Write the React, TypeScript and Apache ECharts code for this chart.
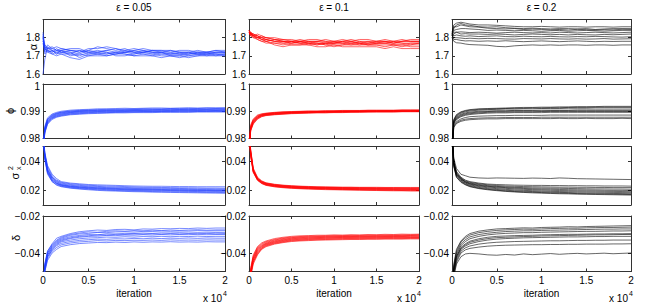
import React, { useEffect, useRef } from 'react';
import * as echarts from 'echarts';

// ---------------- data ----------------
const iterations = [0, 200, 500, 1000, 1500, 2000, 3000, 4000, 5000, 6000, 7000, 8000, 9000, 10000, 11000, 12000, 13000, 14000, 15000, 16000, 17000, 18000, 19000, 20000];

const epsilonTitles = ['ε = 0.05', 'ε = 0.1', 'ε = 0.2'];
const alphaTicks = [1.6, 1.7, 1.8];
const phiTicks = [0.98, 0.99, 1.0];
const sigmaTicks = [0.02, 0.04];
const deltaTicks = [-0.04, -0.02];

const alphaEps005 = [
  [1.83, 1.76, 1.74, 1.75, 1.73, 1.74, 1.73, 1.72, 1.74, 1.74, 1.75, 1.74, 1.73, 1.74, 1.73, 1.72, 1.72, 1.73, 1.72, 1.72, 1.73, 1.72, 1.73, 1.73],
  [1.80, 1.74, 1.72, 1.71, 1.70, 1.71, 1.69, 1.68, 1.70, 1.70, 1.70, 1.71, 1.71, 1.70, 1.70, 1.70, 1.69, 1.70, 1.70, 1.69, 1.70, 1.70, 1.70, 1.70],
  [1.60, 1.68, 1.75, 1.73, 1.72, 1.73, 1.72, 1.71, 1.73, 1.72, 1.73, 1.74, 1.72, 1.71, 1.72, 1.73, 1.72, 1.71, 1.71, 1.72, 1.71, 1.71, 1.72, 1.72],
  [1.78, 1.75, 1.73, 1.72, 1.74, 1.72, 1.71, 1.73, 1.71, 1.72, 1.71, 1.72, 1.73, 1.72, 1.71, 1.71, 1.72, 1.72, 1.71, 1.70, 1.71, 1.71, 1.71, 1.71],
  [1.79, 1.73, 1.76, 1.74, 1.73, 1.73, 1.74, 1.74, 1.72, 1.73, 1.72, 1.71, 1.72, 1.73, 1.74, 1.73, 1.73, 1.72, 1.73, 1.73, 1.72, 1.71, 1.72, 1.72],
  [1.81, 1.74, 1.72, 1.73, 1.71, 1.72, 1.72, 1.69, 1.71, 1.71, 1.72, 1.70, 1.70, 1.71, 1.72, 1.71, 1.70, 1.70, 1.69, 1.70, 1.70, 1.71, 1.70, 1.71],
  [1.77, 1.72, 1.74, 1.74, 1.75, 1.74, 1.73, 1.72, 1.73, 1.75, 1.74, 1.73, 1.74, 1.72, 1.72, 1.73, 1.73, 1.73, 1.72, 1.71, 1.72, 1.72, 1.72, 1.72],
  [1.80, 1.75, 1.73, 1.71, 1.72, 1.71, 1.71, 1.70, 1.72, 1.71, 1.71, 1.72, 1.71, 1.70, 1.71, 1.70, 1.71, 1.71, 1.71, 1.71, 1.71, 1.70, 1.71, 1.71],
  [1.82, 1.71, 1.73, 1.72, 1.73, 1.72, 1.73, 1.73, 1.72, 1.72, 1.73, 1.72, 1.72, 1.73, 1.72, 1.72, 1.72, 1.70, 1.70, 1.71, 1.72, 1.72, 1.71, 1.70],
  [1.78, 1.76, 1.74, 1.73, 1.71, 1.73, 1.70, 1.71, 1.70, 1.71, 1.70, 1.71, 1.72, 1.72, 1.73, 1.72, 1.71, 1.71, 1.72, 1.72, 1.71, 1.72, 1.73, 1.72],
];

const alphaEps01 = [
  [1.84, 1.83, 1.82, 1.81, 1.80, 1.79, 1.78, 1.78, 1.78, 1.78, 1.77, 1.78, 1.78, 1.77, 1.78, 1.78, 1.77, 1.77, 1.78, 1.78, 1.77, 1.78, 1.78, 1.78],
  [1.83, 1.82, 1.81, 1.80, 1.79, 1.78, 1.76, 1.75, 1.76, 1.76, 1.76, 1.75, 1.75, 1.76, 1.75, 1.75, 1.75, 1.75, 1.75, 1.74, 1.75, 1.74, 1.74, 1.74],
  [1.82, 1.82, 1.81, 1.82, 1.81, 1.80, 1.79, 1.79, 1.78, 1.79, 1.78, 1.78, 1.79, 1.78, 1.78, 1.79, 1.78, 1.78, 1.78, 1.79, 1.78, 1.78, 1.79, 1.79],
  [1.83, 1.81, 1.80, 1.79, 1.78, 1.77, 1.77, 1.76, 1.77, 1.77, 1.77, 1.76, 1.77, 1.76, 1.76, 1.76, 1.77, 1.76, 1.76, 1.76, 1.76, 1.75, 1.76, 1.76],
  [1.84, 1.82, 1.82, 1.80, 1.80, 1.80, 1.79, 1.78, 1.77, 1.78, 1.78, 1.77, 1.77, 1.78, 1.77, 1.77, 1.78, 1.77, 1.77, 1.77, 1.78, 1.77, 1.77, 1.77],
  [1.82, 1.83, 1.81, 1.81, 1.79, 1.79, 1.78, 1.77, 1.78, 1.77, 1.76, 1.77, 1.76, 1.77, 1.77, 1.76, 1.76, 1.77, 1.77, 1.77, 1.76, 1.76, 1.77, 1.77],
  [1.83, 1.82, 1.80, 1.80, 1.81, 1.80, 1.80, 1.79, 1.79, 1.78, 1.79, 1.79, 1.78, 1.78, 1.79, 1.78, 1.79, 1.79, 1.78, 1.78, 1.78, 1.79, 1.78, 1.78],
  [1.84, 1.81, 1.81, 1.79, 1.78, 1.78, 1.77, 1.77, 1.76, 1.76, 1.77, 1.77, 1.76, 1.75, 1.76, 1.77, 1.76, 1.76, 1.76, 1.75, 1.76, 1.76, 1.75, 1.75],
  [1.82, 1.82, 1.82, 1.81, 1.80, 1.79, 1.78, 1.78, 1.78, 1.77, 1.78, 1.78, 1.77, 1.77, 1.77, 1.78, 1.77, 1.78, 1.77, 1.77, 1.77, 1.77, 1.76, 1.77],
  [1.83, 1.83, 1.81, 1.80, 1.79, 1.78, 1.79, 1.78, 1.77, 1.78, 1.77, 1.76, 1.77, 1.77, 1.78, 1.77, 1.77, 1.76, 1.77, 1.78, 1.77, 1.78, 1.78, 1.78],
];

const alphaEps02 = [
  [1.82, 1.87, 1.88, 1.885, 1.88, 1.875, 1.87, 1.87, 1.868, 1.865, 1.862, 1.86, 1.86, 1.862, 1.86, 1.858, 1.86, 1.86, 1.858, 1.86, 1.86, 1.858, 1.86, 1.86],
  [1.81, 1.85, 1.87, 1.878, 1.87, 1.868, 1.86, 1.858, 1.86, 1.855, 1.852, 1.85, 1.852, 1.85, 1.848, 1.85, 1.85, 1.848, 1.85, 1.845, 1.848, 1.85, 1.85, 1.85],
  [1.83, 1.86, 1.86, 1.87, 1.865, 1.86, 1.858, 1.852, 1.85, 1.848, 1.85, 1.845, 1.847, 1.845, 1.843, 1.845, 1.842, 1.846, 1.844, 1.842, 1.844, 1.843, 1.846, 1.845],
  [1.82, 1.84, 1.845, 1.85, 1.85, 1.848, 1.845, 1.84, 1.842, 1.84, 1.838, 1.84, 1.838, 1.835, 1.838, 1.84, 1.835, 1.838, 1.84, 1.838, 1.836, 1.838, 1.84, 1.84],
  [1.81, 1.83, 1.83, 1.832, 1.83, 1.828, 1.83, 1.828, 1.825, 1.828, 1.83, 1.828, 1.826, 1.828, 1.826, 1.83, 1.828, 1.826, 1.828, 1.83, 1.828, 1.826, 1.828, 1.83],
  [1.80, 1.82, 1.83, 1.82, 1.822, 1.82, 1.82, 1.818, 1.82, 1.818, 1.815, 1.818, 1.82, 1.818, 1.816, 1.818, 1.815, 1.818, 1.816, 1.815, 1.818, 1.816, 1.818, 1.82],
  [1.82, 1.81, 1.815, 1.81, 1.808, 1.81, 1.806, 1.808, 1.81, 1.806, 1.805, 1.808, 1.806, 1.805, 1.807, 1.805, 1.804, 1.806, 1.805, 1.807, 1.806, 1.804, 1.803, 1.805],
  [1.81, 1.80, 1.80, 1.798, 1.795, 1.797, 1.794, 1.796, 1.795, 1.793, 1.792, 1.795, 1.794, 1.793, 1.795, 1.793, 1.792, 1.794, 1.792, 1.793, 1.795, 1.792, 1.793, 1.794],
  [1.82, 1.79, 1.79, 1.785, 1.782, 1.783, 1.78, 1.782, 1.78, 1.783, 1.78, 1.778, 1.78, 1.782, 1.78, 1.778, 1.78, 1.782, 1.78, 1.778, 1.78, 1.779, 1.78, 1.78],
  [1.80, 1.78, 1.772, 1.77, 1.765, 1.762, 1.76, 1.758, 1.752, 1.75, 1.755, 1.758, 1.76, 1.758, 1.76, 1.758, 1.76, 1.76, 1.758, 1.76, 1.76, 1.758, 1.76, 1.76],
];

const phiEps005 = [
  [0.975, 0.9845, 0.9876, 0.9890, 0.9896, 0.9900, 0.9904, 0.9906, 0.9907, 0.9909, 0.9909, 0.9910, 0.9911, 0.9910, 0.9911, 0.9912, 0.9912, 0.9911, 0.9912, 0.9913, 0.9912, 0.9913, 0.9913, 0.9913],
  [0.975, 0.9840, 0.9872, 0.9887, 0.9893, 0.9897, 0.9901, 0.9903, 0.9905, 0.9906, 0.9907, 0.9907, 0.9908, 0.9908, 0.9909, 0.9909, 0.9909, 0.9910, 0.9910, 0.9910, 0.9910, 0.9911, 0.9910, 0.9911],
  [0.975, 0.9838, 0.9870, 0.9885, 0.9892, 0.9896, 0.9900, 0.9902, 0.9903, 0.9904, 0.9905, 0.9905, 0.9906, 0.9906, 0.9907, 0.9907, 0.9907, 0.9908, 0.9907, 0.9908, 0.9908, 0.9908, 0.9909, 0.9909],
  [0.975, 0.9835, 0.9868, 0.9883, 0.9890, 0.9894, 0.9898, 0.9900, 0.9902, 0.9903, 0.9903, 0.9904, 0.9904, 0.9905, 0.9905, 0.9905, 0.9906, 0.9906, 0.9906, 0.9906, 0.9907, 0.9907, 0.9907, 0.9907],
  [0.975, 0.9832, 0.9865, 0.9881, 0.9888, 0.9892, 0.9896, 0.9899, 0.9900, 0.9901, 0.9902, 0.9902, 0.9903, 0.9903, 0.9903, 0.9904, 0.9904, 0.9904, 0.9905, 0.9905, 0.9905, 0.9905, 0.9905, 0.9905],
  [0.975, 0.9830, 0.9862, 0.9879, 0.9886, 0.9890, 0.9895, 0.9897, 0.9898, 0.9899, 0.9900, 0.9901, 0.9901, 0.9902, 0.9902, 0.9902, 0.9902, 0.9903, 0.9903, 0.9903, 0.9903, 0.9904, 0.9903, 0.9904],
  [0.975, 0.9828, 0.9860, 0.9877, 0.9884, 0.9888, 0.9893, 0.9895, 0.9897, 0.9898, 0.9898, 0.9899, 0.9899, 0.9900, 0.9900, 0.9900, 0.9901, 0.9901, 0.9901, 0.9901, 0.9902, 0.9902, 0.9902, 0.9902],
  [0.975, 0.9825, 0.9858, 0.9875, 0.9882, 0.9886, 0.9891, 0.9893, 0.9895, 0.9896, 0.9897, 0.9897, 0.9898, 0.9898, 0.9899, 0.9899, 0.9899, 0.9899, 0.9900, 0.9900, 0.9900, 0.9900, 0.9901, 0.9900],
  [0.975, 0.9822, 0.9855, 0.9873, 0.9880, 0.9884, 0.9889, 0.9891, 0.9893, 0.9894, 0.9895, 0.9896, 0.9896, 0.9897, 0.9897, 0.9897, 0.9898, 0.9898, 0.9898, 0.9898, 0.9899, 0.9899, 0.9899, 0.9899],
  [0.975, 0.9820, 0.9852, 0.9870, 0.9878, 0.9882, 0.9887, 0.9889, 0.9891, 0.9892, 0.9893, 0.9894, 0.9894, 0.9895, 0.9895, 0.9895, 0.9896, 0.9896, 0.9896, 0.9896, 0.9897, 0.9897, 0.9897, 0.9897],
];

const phiEps01 = [
  [0.975, 0.9850, 0.9872, 0.9886, 0.9891, 0.9893, 0.9896, 0.9898, 0.9899, 0.9900, 0.9901, 0.9901, 0.9902, 0.9902, 0.9903, 0.9903, 0.9903, 0.9904, 0.9904, 0.9904, 0.9904, 0.9905, 0.9905, 0.9905],
  [0.975, 0.9846, 0.9869, 0.9884, 0.9889, 0.9892, 0.9895, 0.9897, 0.9898, 0.9899, 0.9900, 0.9900, 0.9901, 0.9901, 0.9902, 0.9902, 0.9902, 0.9903, 0.9903, 0.9903, 0.9903, 0.9904, 0.9904, 0.9904],
  [0.975, 0.9843, 0.9867, 0.9882, 0.9888, 0.9891, 0.9894, 0.9896, 0.9897, 0.9898, 0.9899, 0.9899, 0.9900, 0.9900, 0.9901, 0.9901, 0.9901, 0.9902, 0.9902, 0.9902, 0.9902, 0.9903, 0.9903, 0.9903],
  [0.975, 0.9840, 0.9865, 0.9880, 0.9887, 0.9890, 0.9893, 0.9895, 0.9896, 0.9897, 0.9898, 0.9899, 0.9899, 0.9900, 0.9900, 0.9900, 0.9901, 0.9901, 0.9901, 0.9902, 0.9902, 0.9902, 0.9902, 0.9902],
  [0.975, 0.9838, 0.9863, 0.9879, 0.9886, 0.9889, 0.9892, 0.9894, 0.9896, 0.9897, 0.9897, 0.9898, 0.9898, 0.9899, 0.9899, 0.9900, 0.9900, 0.9900, 0.9901, 0.9901, 0.9901, 0.9901, 0.9901, 0.9902],
  [0.975, 0.9836, 0.9861, 0.9878, 0.9885, 0.9888, 0.9891, 0.9893, 0.9895, 0.9896, 0.9896, 0.9897, 0.9898, 0.9898, 0.9899, 0.9899, 0.9899, 0.9900, 0.9900, 0.9900, 0.9900, 0.9901, 0.9901, 0.9901],
  [0.975, 0.9834, 0.9859, 0.9876, 0.9884, 0.9887, 0.9890, 0.9892, 0.9894, 0.9895, 0.9896, 0.9896, 0.9897, 0.9897, 0.9898, 0.9898, 0.9899, 0.9899, 0.9899, 0.9899, 0.9900, 0.9900, 0.9900, 0.9900],
  [0.975, 0.9832, 0.9857, 0.9875, 0.9883, 0.9886, 0.9889, 0.9891, 0.9893, 0.9894, 0.9895, 0.9896, 0.9896, 0.9897, 0.9897, 0.9898, 0.9898, 0.9898, 0.9899, 0.9899, 0.9899, 0.9899, 0.9900, 0.9900],
  [0.975, 0.9830, 0.9855, 0.9873, 0.9881, 0.9885, 0.9888, 0.9890, 0.9892, 0.9893, 0.9894, 0.9895, 0.9895, 0.9896, 0.9896, 0.9897, 0.9897, 0.9898, 0.9898, 0.9898, 0.9898, 0.9899, 0.9899, 0.9899],
  [0.975, 0.9828, 0.9853, 0.9871, 0.9880, 0.9884, 0.9887, 0.9889, 0.9891, 0.9892, 0.9893, 0.9894, 0.9894, 0.9895, 0.9895, 0.9896, 0.9896, 0.9897, 0.9897, 0.9897, 0.9897, 0.9898, 0.9898, 0.9898],
];

const phiEps02 = [
  [0.975, 0.9870, 0.9888, 0.9898, 0.9903, 0.9906, 0.9909, 0.9910, 0.9911, 0.9912, 0.9913, 0.9914, 0.9914, 0.9915, 0.9915, 0.9916, 0.9916, 0.9917, 0.9917, 0.9917, 0.9918, 0.9918, 0.9918, 0.9918],
  [0.975, 0.9868, 0.9885, 0.9896, 0.9901, 0.9904, 0.9907, 0.9908, 0.9909, 0.9910, 0.9911, 0.9911, 0.9912, 0.9912, 0.9913, 0.9913, 0.9914, 0.9914, 0.9914, 0.9915, 0.9915, 0.9915, 0.9915, 0.9915],
  [0.975, 0.9865, 0.9882, 0.9893, 0.9898, 0.9901, 0.9904, 0.9906, 0.9907, 0.9908, 0.9908, 0.9909, 0.9909, 0.9910, 0.9910, 0.9910, 0.9911, 0.9911, 0.9911, 0.9912, 0.9912, 0.9912, 0.9912, 0.9912],
  [0.975, 0.9862, 0.9878, 0.9889, 0.9894, 0.9897, 0.9900, 0.9901, 0.9902, 0.9902, 0.9903, 0.9903, 0.9903, 0.9904, 0.9904, 0.9904, 0.9904, 0.9905, 0.9905, 0.9905, 0.9905, 0.9905, 0.9905, 0.9905],
  [0.975, 0.9860, 0.9875, 0.9886, 0.9891, 0.9894, 0.9897, 0.9899, 0.9900, 0.9900, 0.9901, 0.9901, 0.9901, 0.9901, 0.9902, 0.9902, 0.9902, 0.9902, 0.9902, 0.9902, 0.9902, 0.9902, 0.9902, 0.9902],
  [0.975, 0.9858, 0.9872, 0.9883, 0.9888, 0.9891, 0.9894, 0.9896, 0.9897, 0.9897, 0.9898, 0.9898, 0.9898, 0.9899, 0.9899, 0.9899, 0.9899, 0.9899, 0.9899, 0.9899, 0.9899, 0.9899, 0.9899, 0.9899],
  [0.975, 0.9855, 0.9869, 0.9880, 0.9885, 0.9888, 0.9891, 0.9893, 0.9894, 0.9894, 0.9895, 0.9895, 0.9895, 0.9895, 0.9896, 0.9896, 0.9896, 0.9896, 0.9896, 0.9896, 0.9896, 0.9896, 0.9896, 0.9896],
  [0.975, 0.9850, 0.9862, 0.9872, 0.9877, 0.9880, 0.9882, 0.9883, 0.9884, 0.9884, 0.9885, 0.9885, 0.9885, 0.9885, 0.9886, 0.9886, 0.9886, 0.9886, 0.9886, 0.9886, 0.9886, 0.9886, 0.9886, 0.9886],
  [0.975, 0.9845, 0.9858, 0.9867, 0.9871, 0.9873, 0.9875, 0.9876, 0.9876, 0.9877, 0.9877, 0.9877, 0.9877, 0.9878, 0.9878, 0.9878, 0.9878, 0.9878, 0.9878, 0.9878, 0.9878, 0.9878, 0.9878, 0.9878],
  [0.975, 0.9840, 0.9855, 0.9863, 0.9867, 0.9869, 0.9871, 0.9872, 0.9872, 0.9873, 0.9873, 0.9873, 0.9873, 0.9873, 0.9873, 0.9874, 0.9873, 0.9873, 0.9874, 0.9873, 0.9873, 0.9873, 0.9874, 0.9873],
];

const sigmaEps005 = [
  [0.060, 0.046, 0.037, 0.031, 0.028, 0.026, 0.0250, 0.0245, 0.0240, 0.0238, 0.0236, 0.0234, 0.0232, 0.0230, 0.0229, 0.0228, 0.0228, 0.0227, 0.0226, 0.0226, 0.0225, 0.0225, 0.0225, 0.0225],
  [0.060, 0.045, 0.036, 0.030, 0.027, 0.0255, 0.0245, 0.0240, 0.0235, 0.0232, 0.0230, 0.0228, 0.0226, 0.0224, 0.0222, 0.0221, 0.0220, 0.0219, 0.0218, 0.0218, 0.0217, 0.0216, 0.0216, 0.0215],
  [0.060, 0.045, 0.035, 0.029, 0.0265, 0.025, 0.0240, 0.0234, 0.0230, 0.0227, 0.0224, 0.0222, 0.0220, 0.0218, 0.0217, 0.0216, 0.0215, 0.0214, 0.0213, 0.0212, 0.0211, 0.0211, 0.0210, 0.0210],
  [0.060, 0.044, 0.034, 0.029, 0.026, 0.0245, 0.0235, 0.0229, 0.0225, 0.0222, 0.0219, 0.0217, 0.0215, 0.0213, 0.0212, 0.0211, 0.0210, 0.0209, 0.0208, 0.0207, 0.0206, 0.0206, 0.0205, 0.0205],
  [0.060, 0.044, 0.034, 0.028, 0.0255, 0.024, 0.0230, 0.0225, 0.0221, 0.0218, 0.0215, 0.0213, 0.0211, 0.0209, 0.0208, 0.0207, 0.0206, 0.0205, 0.0204, 0.0203, 0.0202, 0.0201, 0.0200, 0.0200],
  [0.060, 0.043, 0.033, 0.028, 0.025, 0.0238, 0.0228, 0.0222, 0.0218, 0.0215, 0.0212, 0.0210, 0.0208, 0.0206, 0.0205, 0.0204, 0.0203, 0.0202, 0.0201, 0.0200, 0.0199, 0.0199, 0.0198, 0.0198],
  [0.060, 0.043, 0.033, 0.027, 0.0248, 0.0235, 0.0225, 0.0219, 0.0215, 0.0212, 0.0209, 0.0207, 0.0205, 0.0203, 0.0202, 0.0201, 0.0200, 0.0199, 0.0198, 0.0197, 0.0196, 0.0196, 0.0195, 0.0195],
  [0.060, 0.042, 0.032, 0.027, 0.0245, 0.0232, 0.0222, 0.0216, 0.0212, 0.0208, 0.0205, 0.0203, 0.0201, 0.0199, 0.0198, 0.0197, 0.0196, 0.0195, 0.0194, 0.0193, 0.0192, 0.0191, 0.0191, 0.0190],
  [0.060, 0.042, 0.032, 0.026, 0.024, 0.0228, 0.0218, 0.0212, 0.0208, 0.0204, 0.0201, 0.0199, 0.0197, 0.0195, 0.0194, 0.0192, 0.0191, 0.0190, 0.0189, 0.0188, 0.0187, 0.0186, 0.0186, 0.0185],
  [0.060, 0.041, 0.031, 0.026, 0.0235, 0.0225, 0.0215, 0.0209, 0.0204, 0.0200, 0.0197, 0.0195, 0.0193, 0.0191, 0.0190, 0.0188, 0.0187, 0.0186, 0.0185, 0.0184, 0.0183, 0.0182, 0.0181, 0.0180],
];

const sigmaEps01 = [
  [0.060, 0.048, 0.035, 0.029, 0.0265, 0.0252, 0.0242, 0.0236, 0.0232, 0.0229, 0.0227, 0.0225, 0.0224, 0.0223, 0.0222, 0.0222, 0.0221, 0.0221, 0.0221, 0.0220, 0.0220, 0.0220, 0.0220, 0.0220],
  [0.060, 0.047, 0.035, 0.0285, 0.0262, 0.0250, 0.0240, 0.0234, 0.0230, 0.0227, 0.0225, 0.0223, 0.0222, 0.0221, 0.0220, 0.0220, 0.0219, 0.0219, 0.0218, 0.0218, 0.0218, 0.0217, 0.0217, 0.0217],
  [0.060, 0.047, 0.034, 0.0283, 0.0260, 0.0248, 0.0238, 0.0232, 0.0228, 0.0225, 0.0223, 0.0221, 0.0220, 0.0219, 0.0218, 0.0217, 0.0217, 0.0216, 0.0216, 0.0215, 0.0215, 0.0215, 0.0214, 0.0214],
  [0.060, 0.046, 0.034, 0.0280, 0.0258, 0.0246, 0.0236, 0.0230, 0.0226, 0.0223, 0.0221, 0.0219, 0.0218, 0.0217, 0.0216, 0.0215, 0.0214, 0.0214, 0.0213, 0.0213, 0.0212, 0.0212, 0.0212, 0.0211],
  [0.060, 0.046, 0.0335, 0.0278, 0.0256, 0.0244, 0.0234, 0.0228, 0.0224, 0.0221, 0.0219, 0.0217, 0.0216, 0.0215, 0.0214, 0.0213, 0.0212, 0.0212, 0.0211, 0.0210, 0.0210, 0.0209, 0.0209, 0.0209],
  [0.060, 0.045, 0.0332, 0.0276, 0.0254, 0.0242, 0.0232, 0.0226, 0.0222, 0.0219, 0.0217, 0.0215, 0.0214, 0.0213, 0.0212, 0.0211, 0.0210, 0.0209, 0.0209, 0.0208, 0.0207, 0.0207, 0.0206, 0.0206],
  [0.060, 0.045, 0.0330, 0.0274, 0.0252, 0.0240, 0.0230, 0.0224, 0.0220, 0.0217, 0.0215, 0.0213, 0.0212, 0.0210, 0.0209, 0.0208, 0.0207, 0.0207, 0.0206, 0.0205, 0.0205, 0.0204, 0.0204, 0.0203],
  [0.060, 0.044, 0.0328, 0.0272, 0.0250, 0.0238, 0.0228, 0.0222, 0.0218, 0.0215, 0.0213, 0.0211, 0.0210, 0.0208, 0.0207, 0.0206, 0.0205, 0.0204, 0.0203, 0.0203, 0.0202, 0.0201, 0.0201, 0.0200],
  [0.060, 0.044, 0.0325, 0.0270, 0.0248, 0.0236, 0.0226, 0.0220, 0.0216, 0.0213, 0.0211, 0.0209, 0.0208, 0.0206, 0.0205, 0.0204, 0.0203, 0.0202, 0.0201, 0.0200, 0.0200, 0.0199, 0.0198, 0.0198],
  [0.060, 0.043, 0.0322, 0.0268, 0.0246, 0.0234, 0.0224, 0.0218, 0.0214, 0.0211, 0.0209, 0.0207, 0.0205, 0.0204, 0.0203, 0.0202, 0.0201, 0.0200, 0.0199, 0.0198, 0.0197, 0.0197, 0.0196, 0.0196],
];

const sigmaEps02 = [
  [0.060, 0.042, 0.035, 0.031, 0.030, 0.029, 0.0285, 0.0283, 0.0285, 0.0284, 0.0283, 0.0282, 0.0284, 0.0283, 0.0281, 0.0285, 0.0283, 0.0280, 0.0279, 0.0278, 0.0277, 0.0276, 0.0275, 0.0274],
  [0.060, 0.040, 0.033, 0.029, 0.027, 0.026, 0.0250, 0.0243, 0.0240, 0.0238, 0.0236, 0.0235, 0.0234, 0.0234, 0.0233, 0.0233, 0.0232, 0.0232, 0.0231, 0.0231, 0.0230, 0.0230, 0.0230, 0.0229],
  [0.060, 0.040, 0.032, 0.0285, 0.0265, 0.0255, 0.0245, 0.0238, 0.0233, 0.0230, 0.0228, 0.0226, 0.0225, 0.0224, 0.0223, 0.0222, 0.0222, 0.0221, 0.0221, 0.0220, 0.0220, 0.0219, 0.0219, 0.0219],
  [0.060, 0.039, 0.032, 0.028, 0.026, 0.025, 0.0240, 0.0232, 0.0227, 0.0224, 0.0221, 0.0219, 0.0217, 0.0216, 0.0215, 0.0214, 0.0213, 0.0212, 0.0211, 0.0210, 0.0210, 0.0209, 0.0209, 0.0208],
  [0.060, 0.039, 0.031, 0.028, 0.0258, 0.0246, 0.0235, 0.0228, 0.0223, 0.0219, 0.0216, 0.0213, 0.0211, 0.0209, 0.0208, 0.0206, 0.0205, 0.0204, 0.0203, 0.0202, 0.0201, 0.0200, 0.0200, 0.0199],
  [0.060, 0.038, 0.031, 0.0275, 0.0255, 0.0243, 0.0231, 0.0224, 0.0218, 0.0214, 0.0210, 0.0207, 0.0205, 0.0203, 0.0201, 0.0199, 0.0198, 0.0197, 0.0196, 0.0195, 0.0194, 0.0193, 0.0192, 0.0191],
  [0.060, 0.038, 0.030, 0.027, 0.025, 0.0238, 0.0226, 0.0218, 0.0212, 0.0207, 0.0203, 0.0200, 0.0198, 0.0196, 0.0194, 0.0192, 0.0191, 0.0190, 0.0189, 0.0188, 0.0187, 0.0186, 0.0185, 0.0184],
  [0.060, 0.037, 0.030, 0.0265, 0.0245, 0.0233, 0.0220, 0.0212, 0.0206, 0.0201, 0.0197, 0.0194, 0.0192, 0.0190, 0.0188, 0.0186, 0.0185, 0.0183, 0.0182, 0.0181, 0.0180, 0.0179, 0.0178, 0.0177],
  [0.060, 0.037, 0.029, 0.026, 0.024, 0.0228, 0.0215, 0.0207, 0.0201, 0.0196, 0.0192, 0.0189, 0.0187, 0.0185, 0.0183, 0.0181, 0.0180, 0.0178, 0.0177, 0.0176, 0.0175, 0.0174, 0.0173, 0.0172],
  [0.060, 0.036, 0.029, 0.0255, 0.0238, 0.0225, 0.0212, 0.0204, 0.0198, 0.0193, 0.0189, 0.0186, 0.0183, 0.0181, 0.0179, 0.0177, 0.0176, 0.0174, 0.0173, 0.0172, 0.0171, 0.0170, 0.0169, 0.0168],
];

const deltaEps005 = [
  [-0.060, -0.046, -0.039, -0.035, -0.032, -0.031, -0.0295, -0.0285, -0.0280, -0.0276, -0.0278, -0.0273, -0.0272, -0.0275, -0.0270, -0.0271, -0.0268, -0.0269, -0.0267, -0.0268, -0.0265, -0.0267, -0.0265, -0.0265],
  [-0.060, -0.046, -0.039, -0.0355, -0.033, -0.0315, -0.0300, -0.0292, -0.0286, -0.0288, -0.0283, -0.0280, -0.0282, -0.0279, -0.0280, -0.0277, -0.0279, -0.0276, -0.0278, -0.0276, -0.0274, -0.0277, -0.0275, -0.0275],
  [-0.060, -0.047, -0.040, -0.036, -0.0335, -0.032, -0.0305, -0.0297, -0.0294, -0.0289, -0.0290, -0.0286, -0.0285, -0.0287, -0.0283, -0.0284, -0.0281, -0.0283, -0.0281, -0.0282, -0.0279, -0.0281, -0.0280, -0.0280],
  [-0.060, -0.047, -0.040, -0.0365, -0.034, -0.0325, -0.0312, -0.0305, -0.0300, -0.0302, -0.0296, -0.0297, -0.0294, -0.0295, -0.0292, -0.0294, -0.0291, -0.0292, -0.0290, -0.0292, -0.0290, -0.0291, -0.0289, -0.0290],
  [-0.060, -0.048, -0.041, -0.037, -0.0345, -0.033, -0.0318, -0.0310, -0.0307, -0.0302, -0.0303, -0.0299, -0.0300, -0.0297, -0.0298, -0.0296, -0.0298, -0.0295, -0.0297, -0.0295, -0.0296, -0.0294, -0.0296, -0.0295],
  [-0.060, -0.048, -0.041, -0.0375, -0.035, -0.0335, -0.0322, -0.0315, -0.0310, -0.0309, -0.0305, -0.0306, -0.0303, -0.0304, -0.0301, -0.0303, -0.0300, -0.0302, -0.0300, -0.0301, -0.0299, -0.0301, -0.0300, -0.0300],
  [-0.060, -0.049, -0.042, -0.038, -0.0355, -0.034, -0.0330, -0.0323, -0.0319, -0.0317, -0.0314, -0.0315, -0.0312, -0.0314, -0.0311, -0.0312, -0.0310, -0.0312, -0.0310, -0.0311, -0.0309, -0.0311, -0.0310, -0.0310],
  [-0.060, -0.049, -0.042, -0.0385, -0.036, -0.0348, -0.0338, -0.0332, -0.0328, -0.0325, -0.0326, -0.0323, -0.0324, -0.0321, -0.0323, -0.0320, -0.0322, -0.0320, -0.0321, -0.0319, -0.0321, -0.0319, -0.0320, -0.0320],
  [-0.060, -0.050, -0.043, -0.039, -0.037, -0.0356, -0.0346, -0.0340, -0.0337, -0.0333, -0.0335, -0.0332, -0.0333, -0.0331, -0.0332, -0.0330, -0.0332, -0.0329, -0.0331, -0.0330, -0.0331, -0.0329, -0.0330, -0.0330],
  [-0.060, -0.050, -0.044, -0.040, -0.038, -0.0365, -0.0355, -0.0349, -0.0346, -0.0343, -0.0344, -0.0341, -0.0343, -0.0340, -0.0342, -0.0340, -0.0341, -0.0339, -0.0341, -0.0340, -0.0341, -0.0339, -0.0340, -0.0340],
];

const deltaEps01 = [
  [-0.060, -0.048, -0.041, -0.0365, -0.0345, -0.0335, -0.0322, -0.0315, -0.0310, -0.0307, -0.0306, -0.0304, -0.0304, -0.0302, -0.0303, -0.0301, -0.0302, -0.0300, -0.0301, -0.0299, -0.0300, -0.0298, -0.0299, -0.0298],
  [-0.060, -0.049, -0.042, -0.037, -0.035, -0.0339, -0.0327, -0.0319, -0.0314, -0.0311, -0.0309, -0.0308, -0.0307, -0.0306, -0.0306, -0.0305, -0.0305, -0.0304, -0.0304, -0.0303, -0.0303, -0.0302, -0.0302, -0.0301],
  [-0.060, -0.049, -0.042, -0.0375, -0.0355, -0.0343, -0.0330, -0.0322, -0.0317, -0.0314, -0.0312, -0.0311, -0.0310, -0.0309, -0.0309, -0.0308, -0.0308, -0.0307, -0.0307, -0.0306, -0.0306, -0.0305, -0.0305, -0.0304],
  [-0.060, -0.050, -0.043, -0.038, -0.036, -0.0347, -0.0334, -0.0326, -0.0320, -0.0317, -0.0315, -0.0314, -0.0313, -0.0312, -0.0311, -0.0311, -0.0310, -0.0310, -0.0309, -0.0309, -0.0308, -0.0308, -0.0307, -0.0307],
  [-0.060, -0.050, -0.043, -0.0385, -0.0363, -0.0350, -0.0337, -0.0329, -0.0323, -0.0320, -0.0318, -0.0317, -0.0315, -0.0314, -0.0314, -0.0313, -0.0313, -0.0312, -0.0312, -0.0311, -0.0311, -0.0311, -0.0310, -0.0310],
  [-0.060, -0.051, -0.044, -0.039, -0.0366, -0.0353, -0.0340, -0.0332, -0.0326, -0.0323, -0.0321, -0.0319, -0.0318, -0.0317, -0.0316, -0.0316, -0.0315, -0.0315, -0.0314, -0.0314, -0.0313, -0.0313, -0.0313, -0.0313],
  [-0.060, -0.051, -0.044, -0.0395, -0.037, -0.0356, -0.0343, -0.0335, -0.0329, -0.0326, -0.0324, -0.0322, -0.0321, -0.0320, -0.0319, -0.0319, -0.0318, -0.0318, -0.0317, -0.0317, -0.0316, -0.0316, -0.0316, -0.0316],
  [-0.060, -0.052, -0.045, -0.040, -0.0373, -0.0359, -0.0346, -0.0338, -0.0332, -0.0329, -0.0327, -0.0325, -0.0324, -0.0323, -0.0322, -0.0321, -0.0321, -0.0320, -0.0320, -0.0319, -0.0319, -0.0319, -0.0318, -0.0318],
  [-0.060, -0.052, -0.045, -0.0405, -0.0377, -0.0362, -0.0349, -0.0341, -0.0335, -0.0332, -0.0330, -0.0328, -0.0327, -0.0326, -0.0325, -0.0324, -0.0324, -0.0323, -0.0323, -0.0322, -0.0322, -0.0322, -0.0321, -0.0321],
  [-0.060, -0.053, -0.046, -0.041, -0.038, -0.0366, -0.0352, -0.0344, -0.0338, -0.0335, -0.0333, -0.0331, -0.0330, -0.0329, -0.0328, -0.0327, -0.0327, -0.0326, -0.0326, -0.0325, -0.0325, -0.0325, -0.0324, -0.0324],
];

const deltaEps02 = [
  [-0.060, -0.046, -0.038, -0.0335, -0.031, -0.0295, -0.0282, -0.0275, -0.0270, -0.0268, -0.0266, -0.0264, -0.0265, -0.0262, -0.0261, -0.0260, -0.0258, -0.0259, -0.0257, -0.0256, -0.0255, -0.0254, -0.0253, -0.0252],
  [-0.060, -0.047, -0.039, -0.034, -0.0318, -0.0303, -0.0290, -0.0283, -0.0278, -0.0275, -0.0273, -0.0271, -0.0272, -0.0270, -0.0268, -0.0267, -0.0266, -0.0266, -0.0264, -0.0263, -0.0262, -0.0262, -0.0261, -0.0260],
  [-0.060, -0.048, -0.040, -0.035, -0.0328, -0.0313, -0.0300, -0.0293, -0.0288, -0.0284, -0.0282, -0.0280, -0.0280, -0.0278, -0.0277, -0.0276, -0.0275, -0.0274, -0.0273, -0.0272, -0.0271, -0.0271, -0.0270, -0.0270],
  [-0.060, -0.048, -0.041, -0.036, -0.0338, -0.0323, -0.0310, -0.0302, -0.0297, -0.0294, -0.0292, -0.0290, -0.0290, -0.0288, -0.0287, -0.0286, -0.0285, -0.0284, -0.0283, -0.0283, -0.0282, -0.0281, -0.0281, -0.0280],
  [-0.060, -0.049, -0.042, -0.037, -0.0350, -0.0336, -0.0323, -0.0315, -0.0310, -0.0308, -0.0306, -0.0305, -0.0304, -0.0302, -0.0301, -0.0300, -0.0299, -0.0299, -0.0298, -0.0297, -0.0297, -0.0296, -0.0296, -0.0295],
  [-0.060, -0.050, -0.042, -0.0375, -0.0356, -0.0342, -0.0330, -0.0322, -0.0317, -0.0315, -0.0313, -0.0311, -0.0310, -0.0308, -0.0307, -0.0306, -0.0305, -0.0304, -0.0303, -0.0302, -0.0302, -0.0301, -0.0300, -0.0300],
  [-0.060, -0.050, -0.043, -0.038, -0.0362, -0.0350, -0.0338, -0.0330, -0.0325, -0.0322, -0.0320, -0.0318, -0.0317, -0.0316, -0.0315, -0.0314, -0.0313, -0.0313, -0.0312, -0.0311, -0.0311, -0.0310, -0.0310, -0.0310],
  [-0.060, -0.051, -0.044, -0.0390, -0.0372, -0.0362, -0.0352, -0.0346, -0.0342, -0.0340, -0.0338, -0.0337, -0.0336, -0.0335, -0.0334, -0.0334, -0.0333, -0.0332, -0.0332, -0.0331, -0.0331, -0.0330, -0.0330, -0.0330],
  [-0.060, -0.052, -0.045, -0.0400, -0.0383, -0.0375, -0.0368, -0.0363, -0.0360, -0.0358, -0.0357, -0.0356, -0.0355, -0.0355, -0.0354, -0.0354, -0.0353, -0.0353, -0.0352, -0.0352, -0.0352, -0.0351, -0.0351, -0.0350],
  [-0.060, -0.053, -0.046, -0.0420, -0.0405, -0.0402, -0.0405, -0.0410, -0.0412, -0.0408, -0.0411, -0.0405, -0.0409, -0.0406, -0.0403, -0.0407, -0.0404, -0.0402, -0.0405, -0.0403, -0.0401, -0.0404, -0.0402, -0.0400],
];

// ---------------- layout / style ----------------
const panelData = [
  [alphaEps005, alphaEps01, alphaEps02],
  [phiEps005, phiEps01, phiEps02],
  [sigmaEps005, sigmaEps01, sigmaEps02],
  [deltaEps005, deltaEps01, deltaEps02],
];
const rowRanges = [
  { min: 1.6, max: 1.9, ticks: alphaTicks },
  { min: 0.98, max: 1.0, ticks: phiTicks },
  { min: 0.01, max: 0.05, ticks: sigmaTicks },
  { min: -0.05, max: -0.02, ticks: deltaTicks },
];
const colColors = ['#1f3dff', '#ff0000', '#000000'];
const colLeft = [43, 249, 452];
const colRight = [225, 419, 631];
const rowTop = [19.5, 84, 146.5, 216];
const rowBottom = [74, 138.5, 205, 271.5];

const FONT = '"Liberation Sans", Arial, Helvetica, sans-serif';
const AXIS_COLOR = '#333';

function fmtTick(v: number): string {
  const s = String(parseFloat(v.toFixed(4)));
  return s.startsWith('-') ? '\u2212' + s.slice(1) : s;
}

const textStyle = (text: string, size = 10, align = 'center') => ({
  text,
  fill: '#000',
  font: `${size}px ${FONT}`,
  textAlign: align,
  textVerticalAlign: 'middle',
});

function buildStaticGraphic() {
  const graphic: any[] = [];
  for (let c = 0; c < 3; c++) {
    const cx = (colLeft[c] + colRight[c]) / 2;
    graphic.push({ type: 'text', x: cx, y: 7, z: 100, style: textStyle(epsilonTitles[c]) });
    graphic.push({ type: 'text', x: cx, y: 293, z: 100, style: textStyle('iteration') });
    graphic.push({ type: 'text', x: colRight[c] - 3, y: 298, z: 100, style: textStyle('x 10', 10, 'right') });
    graphic.push({ type: 'text', x: colRight[c] - 2, y: 293.5, z: 100, style: textStyle('4', 7, 'left') });
  }
  const rot = Math.PI / 2;
  graphic.push({ type: 'text', x: 33, y: 47, z: 100, rotation: rot, style: textStyle('α', 11) });
  graphic.push({ type: 'text', x: 10, y: 111, z: 100, rotation: rot, style: textStyle('ϕ', 11) });
  graphic.push({
    type: 'group',
    x: 15,
    y: 168,
    z: 100,
    rotation: rot,
    children: [
      { type: 'text', x: -8, y: 0, style: textStyle('σ', 11) },
      { type: 'text', x: -2, y: -5, style: textStyle('2', 7, 'left') },
      { type: 'text', x: -2, y: 3.5, style: textStyle('x', 7, 'left') },
    ],
  });
  graphic.push({ type: 'text', x: 16, y: 238, z: 100, rotation: rot, style: textStyle('δ', 11) });
  return graphic;
}

function buildOption() {
  const grid: any[] = [];
  const xAxis: any[] = [];
  const yAxis: any[] = [];
  const series: any[] = [];
  for (let r = 0; r < 4; r++) {
    for (let c = 0; c < 3; c++) {
      const g = r * 3 + c;
      grid.push({
        left: colLeft[c],
        top: rowTop[r],
        width: colRight[c] - colLeft[c],
        height: rowBottom[r] - rowTop[r],
        containLabel: false,
        show: false,
      });
      const common = {
        type: 'value',
        gridIndex: g,
        splitLine: { show: false },
        splitArea: { show: false },
        axisLine: { show: true, onZero: false, lineStyle: { color: AXIS_COLOR, width: 1 } },
        axisTick: { show: true, inside: true, length: 3, lineStyle: { color: AXIS_COLOR } },
      };
      xAxis.push({
        ...common,
        position: 'bottom',
        min: 0,
        max: 20000,
        interval: 5000,
        axisLabel: {
          show: r === 3,
          showMinLabel: true,
          showMaxLabel: true,
          margin: 4,
          fontFamily: FONT,
          fontSize: 10,
          color: '#000',
          formatter: (v: number) => String(v / 10000),
        },
      });
      xAxis.push({
        ...common,
        position: 'top',
        min: 0,
        max: 20000,
        interval: 5000,
        axisLabel: { show: false },
      });
      const rr = rowRanges[r];
      yAxis.push({
        ...common,
        position: 'left',
        min: rr.min,
        max: rr.max,
        axisTick: { ...common.axisTick, customValues: rr.ticks },
        axisLabel: { show: false },
      });
      yAxis.push({
        ...common,
        position: 'right',
        min: rr.min,
        max: rr.max,
        axisTick: { ...common.axisTick, customValues: rr.ticks },
        axisLabel: { show: false },
      });
      const lines = panelData[r][c];
      lines.forEach((line, i) => {
        series.push({
          type: 'line',
          name: `r${r}c${c}l${i}`,
          xAxisIndex: 2 * g,
          yAxisIndex: 2 * g,
          data: iterations.map((x, k) => [x, line[k]]),
          showSymbol: false,
          symbol: 'none',
          silent: true,
          clip: true,
          lineStyle: { width: 0.6, color: colColors[c] },
          emphasis: { disabled: true },
        });
      });
    }
  }

  return {
    animation: false,
    backgroundColor: '#ffffff',
    grid,
    xAxis,
    yAxis,
    series,
    graphic: buildStaticGraphic(),
  };
}

export default function App() {
  const ref = useRef<HTMLDivElement>(null);
  useEffect(() => {
    if (!ref.current) return;
    const chart = echarts.init(ref.current, undefined, { renderer: 'svg' });
    chart.setOption(buildOption() as any);
    // y tick labels, placed through each axis's own scale, as title components
    const tickTitles: any[] = [];
    for (let r = 0; r < 4; r++) {
      for (let c = 0; c < 3; c++) {
        const g = r * 3 + c;
        rowRanges[r].ticks.forEach((t) => {
          const py = chart.convertToPixel({ yAxisIndex: 2 * g } as any, t) as number;
          const px = chart.convertToPixel({ xAxisIndex: 2 * g } as any, 0) as number;
          if (typeof py !== 'number' || typeof px !== 'number') return;
          const isTopEdge = Math.abs(t - rowRanges[r].max) < 1e-9;
          tickTitles.push({
            text: fmtTick(t),
            left: px - 3,
            top: py + (isTopEdge && r === 1 ? 2 : 0),
            padding: 0,
            itemGap: 0,
            textAlign: 'right',
            textVerticalAlign: 'middle',
            z: 100,
            textStyle: { fontFamily: FONT, fontSize: 10, fontWeight: 'normal', color: '#000' },
          });
        });
      }
    }
    chart.setOption({ title: tickTitles } as any);
    return () => chart.dispose();
  }, []);
  return (
    <div
      ref={ref}
      style={{ position: 'absolute', left: 0, top: 0, width: 653, height: 307, background: '#fff' }}
    />
  );
}
